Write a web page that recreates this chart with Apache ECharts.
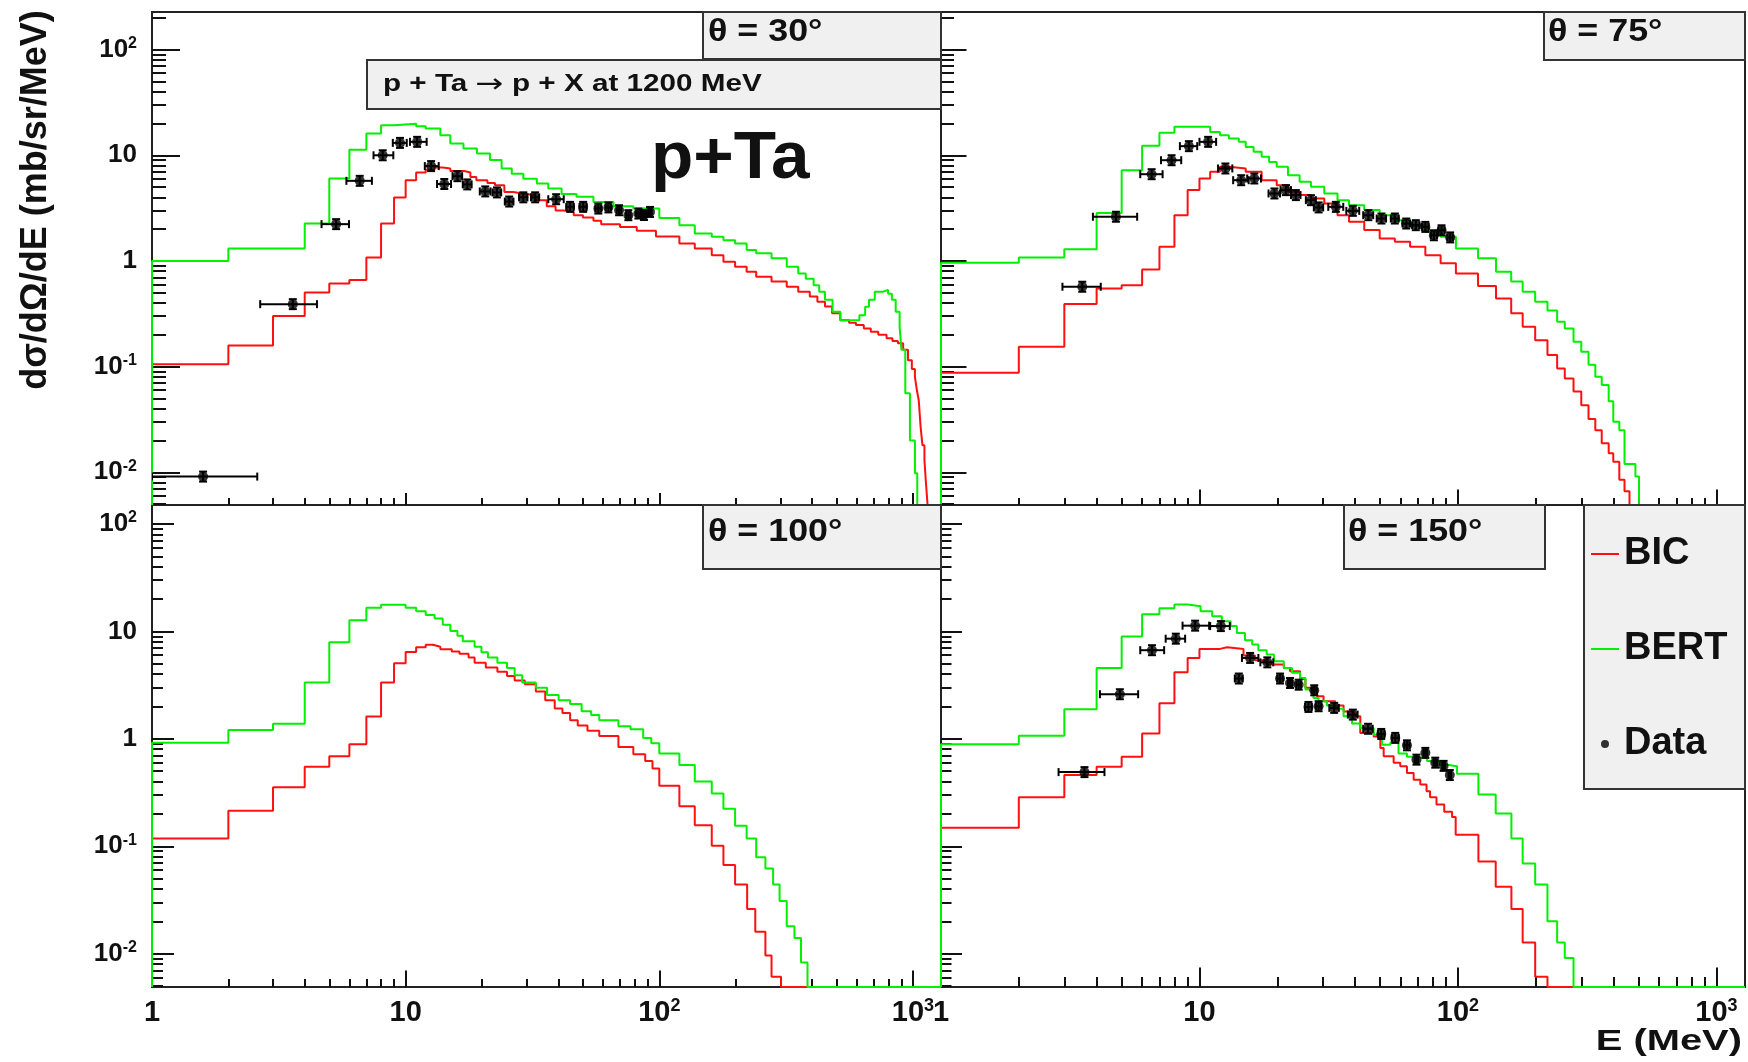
<!DOCTYPE html>
<html><head><meta charset="utf-8">
<script src="https://cdn.jsdelivr.net/npm/echarts@6/dist/echarts.min.js"></script>
<style>html,body{margin:0;padding:0;background:#fff}#c{width:1748px;height:1062px}</style>
</head><body><div id="c"></div><script>
// ---------- data (E in MeV, d2sigma/dOmega dE in mb/sr/MeV) ----------
// histogram pairs: [bin low edge, bin content]; last pair closes the last bin
const angles = ['30', '75', '100', '150'];
const majorXTicks = [1, 10, 100, 1000];
const minorXTicks = [2,3,4,5,6,7,8,9,20,30,40,50,60,70,80,90,200,300,400,500,600,700,800,900];
const majorYTicks = [0.01, 0.1, 1, 10, 100];
const minorYTicks = [0.005,0.006,0.007,0.008,0.009,0.02,0.03,0.04,0.05,0.06,0.07,0.08,0.09,
  0.2,0.3,0.4,0.5,0.6,0.7,0.8,0.9,2,3,4,5,6,7,8,9,20,30,40,50,60,70,80,90,200];
const xRange = [1, 1290];
const yRangeTop = [0.0049, 227];
const yRangeBottom = [0.0049, 150];

const bic30 = [[1,0.105],[2,0.158],[3,0.301],[4,0.503],[5,0.612],[6,0.659],[7,1.08],[8,2.26],[9,3.98],[10,5.8],[11,6.87],[12,7.3],[13,7.66],[14,7.5],[15,7.1],[17,6.87],[18,6.24],[19,5.8],[21,5.48],[22.5,5.21],[24.5,4.5],[26.5,4.35],[29,4.19],[32.5,3.76],[36,3.3],[39,3.0],[42,2.91],[46,2.71],[50,2.58],[55,2.4],[59,2.23],[70,2.1],[81.5,1.93],[97,1.7],[120,1.46],[138,1.31],[161,1.13],[179,0.98],[199,0.88],[221,0.79],[241,0.71],[277,0.64],[318,0.57],[353,0.51],[392,0.46],[420,0.41],[450,0.37],[480,0.32],[517,0.275],[560,0.26],[596,0.247],[640,0.23],[682,0.214],[730,0.2],[787,0.185],[830,0.175],[872,0.166],[915,0.144],[956,0.115],[990,0.095],[1018,0.08],[1036,0.06],[1054,0.048],[1072,0.027],[1090,0.018],[1110,0.013],[1125,0.008],[1142,0.0049]];
const bert30 = [[1,1.0],[2,1.31],[4,2.26],[5,6.03],[6,11.3],[7,16.1],[8,19.2],[9,19.9],[11,18.8],[12,17.9],[13.7,15.5],[15,12.9],[16.9,11.6],[19.1,10.4],[21.5,9.0],[23.9,7.5],[26.2,6.7],[29.1,6.0],[32.9,5.4],[36.5,4.85],[41.2,4.29],[47.2,4.04],[55,3.62],[66,3.3],[79,3.13],[100,2.55],[120,2.18],[138,1.82],[161,1.69],[179,1.57],[199,1.46],[221,1.27],[241,1.18],[277,1.06],[318,0.88],[353,0.76],[378,0.68],[406,0.59],[427,0.51],[450,0.43],[482,0.33],[517,0.275],[615,0.307],[648,0.369],[671,0.43],[707,0.51],[757,0.53],[798,0.49],[826,0.43],[855,0.33],[886,0.238],[901,0.144],[933,0.056],[973,0.020],[1018,0.0098],[1040,0.0049]];
// data points: [E, value, E low, E high]
const data30 = [[1.59,0.0091,1.0,2.6],[3.59,0.39,2.67,4.47],[5.32,2.23,4.66,5.98],[6.59,5.73,5.84,7.36],[8.12,10.0,7.47,8.94],[9.5,13.1,8.9,10.1],[11.1,13.4,10.4,12.1],[12.6,7.9,11.9,13.5],[14.2,5.35,13.3,15.1],[16.0,6.34,15.3,16.7],[17.5,5.3,16.8,18.2],[20.6,4.55,19.6,21.6],[22.9,4.45,22,23.8],[25.6,3.65,24.6,26.6],[29.1,4.0,28,30.2],[32.4,4.0,31.2,33.6],[39.2,3.84,36.5,42],[44.5,3.25,43,46],[50.1,3.25,48.5,51.7],[57.5,3.13,56,59],[63,3.21,61.5,64.5],[69.4,3.02,68,70.8],[75.5,2.71,74,77],[82.7,2.81,81,84.4],[87,2.72,85.5,88.5],[91.9,2.91,90.5,93.3]];

const bic75 = [[1,0.0875],[2,0.154],[3,0.391],[4,0.55],[5,0.59],[6,0.83],[7,1.36],[8,2.71],[9,4.68],[10,6.03],[11,6.97],[12,7.77],[13,7.5],[15.1,6.97],[17.4,5.81],[19.9,5.21],[22,4.51],[24.4,4.2],[27,3.9],[30.4,3.5],[34.2,2.71],[37.9,2.35],[43.4,1.96],[49.8,1.63],[57,1.52],[65.3,1.36],[74.8,1.13],[85.7,0.95],[98.2,0.76],[119.6,0.58],[140.4,0.44],[160.7,0.32],[178,0.238],[199,0.178],[222,0.129],[242,0.096],[259,0.077],[280,0.058],[300,0.043],[320,0.032],[340,0.025],[360,0.0188],[383,0.0151],[399,0.0126],[421,0.0085],[441,0.0066],[461,0.0049]];
const bert75 = [[1,0.96],[2,1.08],[3,1.29],[4,2.85],[5,7.22],[6,12.3],[7,16.3],[8,18.6],[11,16.6],[12,15.5],[13,14.4],[14.2,13.4],[15.1,12.0],[16.2,10.8],[17.4,9.66],[18.6,8.66],[19.9,7.77],[22,6.48],[24.4,5.61],[27,5.03],[30.4,4.35],[34.2,3.76],[37.9,3.37],[43.4,3.03],[49.8,2.71],[57,2.43],[65.3,2.18],[74.8,1.89],[85.7,1.69],[98.2,1.31],[119.6,1.06],[140.4,0.79],[160.7,0.64],[178,0.51],[199,0.41],[222,0.34],[242,0.266],[259,0.23],[280,0.172],[300,0.138],[320,0.104],[340,0.080],[360,0.067],[383,0.047],[399,0.030],[421,0.025],[441,0.012],[461,0.012],[486,0.0091],[502,0.0049]];
const data75 = [[3.52,0.57,2.95,4.15],[4.75,2.62,3.87,5.74],[6.53,6.62,5.9,7.2],[7.8,8.98,7.1,8.5],[9.1,12.2,8.4,9.8],[10.8,13.4,10.0,11.6],[12.6,7.5,11.8,13.4],[14.5,5.81,13.5,15.5],[16.3,6.03,15.3,17.3],[19.5,4.35,18.5,20.5],[21.6,4.68,20.6,22.6],[23.6,4.2,22.6,24.6],[27.0,3.76,25.8,28.2],[28.9,3.21,27.7,30.1],[33.7,3.25,31.5,36],[39.2,2.98,37,41.5],[45.0,2.71,43,47],[50.6,2.52,48.5,52.7],[57.0,2.52,55,59],[63.1,2.26,61,65.2],[68.7,2.18,66.5,71],[74.8,2.10,72.5,77],[80.7,1.75,78.5,83],[86.4,1.95,84,88.8],[93.3,1.67,91,95.6]];

const bic100 = [[1,0.118],[2,0.214],[3,0.355],[4,0.55],[5,0.69],[6,0.89],[7,1.61],[8,3.35],[9,5.04],[10,6.43],[11,7.1],[12,7.5],[12.8,7.2],[13.7,6.8],[15.2,6.5],[16.3,6.2],[17.7,5.7],[18.7,5.1],[20.7,4.6],[23,4.2],[25.1,3.85],[26.9,3.48],[29.5,3.22],[32.6,2.76],[35.5,2.28],[38.7,1.92],[41.5,1.74],[44.5,1.49],[47.7,1.33],[52.1,1.19],[58,1.06],[69,0.84],[79,0.72],[88,0.62],[94,0.53],[100,0.366],[120,0.236],[138,0.157],[161,0.101],[179,0.067],[199,0.044],[222,0.026],[239,0.016],[262,0.0096],[277,0.0061],[302,0.0049],[1290,0.0049]];
const bert100 = [[1,0.92],[2,1.21],[3,1.38],[4,3.35],[5,7.93],[6,12.7],[7,16.6],[8,17.7],[10,16.6],[11,15.4],[12,14.2],[13,13.2],[14,11.5],[15,10.1],[16,9.1],[16.8,8.1],[18.7,7.2],[19.9,6.4],[21.1,5.7],[23,5.1],[25.1,4.55],[26.9,3.9],[28.8,3.35],[32.6,2.98],[36.1,2.56],[40.1,2.28],[44.5,2.11],[49.4,1.81],[53.9,1.67],[58,1.49],[69,1.31],[77,1.23],[86.4,1.02],[93,0.91],[100,0.73],[120,0.57],[138,0.40],[161,0.31],[179,0.224],[199,0.155],[221,0.118],[241,0.079],[262,0.062],[281,0.044],[298,0.031],[318,0.018],[341,0.014],[362,0.0083],[384,0.0049],[1290,0.0049]];

const bic150 = [[1,0.149],[2,0.286],[3,0.46],[4,0.55],[5,0.68],[6,1.12],[7,2.14],[8,4.16],[9,5.66],[10,6.87],[12,7.12],[12.8,6.87],[14.8,5.96],[16.4,5.38],[18.2,4.91],[21.2,4.57],[22.4,4.26],[24.5,3.61],[25.7,2.98],[28.5,2.49],[30.2,2.24],[33.5,2.04],[36.1,1.80],[39.5,1.62],[41.9,1.135],[47.2,1.05],[50.1,0.82],[51.6,0.69],[56.4,0.60],[59.8,0.555],[63.5,0.48],[67.4,0.417],[71.5,0.375],[75.6,0.325],[78,0.286],[82.6,0.245],[88.5,0.21],[94.9,0.187],[98,0.128],[120,0.072],[140,0.042],[161,0.026],[178,0.0127],[199,0.0061],[222,0.0049],[1290,0.0049]];
const bert150 = [[1,0.89],[2,1.07],[3,1.88],[4,4.55],[5,8.95],[6,14.4],[7,16.4],[8,17.8],[9,17.1],[10.1,15.4],[11.2,13.8],[12.2,12.4],[13.2,11.2],[13.95,9.68],[15,8.27],[16,7.53],[16.9,6.67],[18.2,6.08],[19.4,5.27],[21.2,4.57],[22.8,4.11],[24.5,3.69],[25.7,2.87],[27.6,2.40],[28.9,2.24],[31.1,2.04],[33,1.90],[36.1,1.62],[38.9,1.39],[41.9,1.26],[47.2,1.09],[50.8,0.88],[54.7,0.92],[58.9,0.73],[63.5,0.68],[69.4,0.66],[75.9,0.62],[85.5,0.575],[90.7,0.555],[99.2,0.474],[120,0.304],[140,0.202],[161,0.118],[178,0.069],[199,0.044],[222,0.020],[242,0.0127],[259,0.0091],[280,0.0049],[1290,0.0049]];
const data150 = [[3.59,0.49,2.85,4.29],[4.92,2.6,4.12,5.79],[6.55,6.68,5.9,7.3],[8.1,8.55,7.4,8.8],[9.62,11.3,8.6,10.9],[12.1,11.2,11.0,13.1],[14.2,3.64,13.7,14.7],[15.7,5.66,14.6,16.9],[18.3,5.15,17.2,19.3],[20.5,3.64,20,21],[22.4,3.31,22,22.8],[24.2,3.19,23.7,24.7],[27.8,2.83,27.2,28.4],[26.4,1.98,25.6,27.2],[28.9,2.01,28.2,29.6],[33.2,1.94,31.8,34.6],[39.2,1.68,37.5,40.9],[44.9,1.24,43,46.8],[50.5,1.11,49,52],[57.2,1.02,55.5,59],[63.5,0.87,62,65],[69.1,0.64,68,70.2],[74.8,0.74,73.5,76],[81.7,0.60,80.5,83],[88.0,0.56,87,89],[93.0,0.46,92,94]];

// ---------- chart ----------
const FONT = "'Liberation Sans', Arial, Helvetica, sans-serif";
const RED = '#ff1010', GREEN = '#00f000', INK = '#111';

function powLabel(v) {
  const e = Math.round(Math.log10(v));
  if (e === 0) return '{b|1}';
  if (e === 1) return '{b|10}';
  return '{b|10}{s|' + e + '}';
}
function richFor(main, sup) {
  return {
    b: {fontSize: main, fontWeight: 'bold', fontFamily: FONT, color: INK, lineHeight: main + 2},
    s: {fontSize: sup, fontWeight: 'bold', fontFamily: FONT, color: INK, verticalAlign: 'top', lineHeight: sup + 1}
  };
}

const panels = [
  {grid: {left: 152, top: 12, width: 789, height: 493}, yr: yRangeTop, xl: false, yl: true, xt: [12, 7], yt: [28, 14]},
  {grid: {left: 941, top: 12, width: 804, height: 493}, yr: yRangeTop, xl: false, yl: false, xt: [15.5, 7], yt: [25.5, 13]},
  {grid: {left: 152, top: 505, width: 789, height: 482}, yr: yRangeBottom, xl: true, yl: true, xt: [16.5, 8], yt: [22, 11]},
  {grid: {left: 941, top: 505, width: 804, height: 482}, yr: yRangeBottom, xl: true, yl: false, xt: [19.5, 10], yt: [21, 10.5]}
];
const hists = [[bic30, bert30], [bic75, bert75], [bic100, bert100], [bic150, bert150]];
const points = [data30, data75, null, data150];

const grids = [], xAxes = [], yAxes = [], series = [];
const tickLine = {color: INK, width: 2};
panels.forEach((p, i) => {
  grids.push(Object.assign({show: true, borderColor: '#222', borderWidth: 2, backgroundColor: 'transparent', containLabel: false, outerBoundsMode: 'none'}, p.grid));
  const xBase = {gridIndex: i, type: 'log', logBase: 10, min: xRange[0], max: xRange[1], position: 'bottom', offset: 0,
    axisLine: {show: false}, splitLine: {show: false}, minorTick: {show: false}, minorSplitLine: {show: false}};
  xAxes.push(Object.assign({}, xBase, {
    axisTick: {show: true, inside: true, length: p.xt[0], customValues: majorXTicks, lineStyle: tickLine},
    axisLabel: {show: p.xl, customValues: majorXTicks, margin: 10, formatter: powLabel, rich: richFor(29, 18)}
  }));
  xAxes.push(Object.assign({}, xBase, {
    axisTick: {show: true, inside: true, length: p.xt[1], customValues: minorXTicks, lineStyle: tickLine},
    axisLabel: {show: false}
  }));
  const yBase = {gridIndex: i, type: 'log', logBase: 10, min: p.yr[0], max: p.yr[1], position: 'left', offset: 0,
    axisLine: {show: false}, splitLine: {show: false}, minorTick: {show: false}, minorSplitLine: {show: false}};
  yAxes.push(Object.assign({}, yBase, {
    axisTick: {show: true, inside: true, length: p.yt[0], customValues: majorYTicks, lineStyle: tickLine},
    axisLabel: {show: p.yl, customValues: majorYTicks, margin: 15, formatter: powLabel, rich: richFor(26, 16)}
  }));
  yAxes.push(Object.assign({}, yBase, {
    axisTick: {show: true, inside: true, length: p.yt[1], customValues: minorYTicks, lineStyle: tickLine},
    axisLabel: {show: false}
  }));

  const floorY = p.yr[0];
  const mk = (name, pairs, color, z) => ({
    type: 'line', name, xAxisIndex: 2 * i, yAxisIndex: 2 * i,
    data: [[pairs[0][0], floorY]].concat(pairs), step: 'end',
    symbol: 'none', showSymbol: false, clip: true, z,
    lineStyle: {color, width: 2}, itemStyle: {color}, emphasis: {disabled: true}
  });
  series.push(mk('BIC', hists[i][0], RED, 3));
  series.push(mk('BERT', hists[i][1], GREEN, 4));

  if (points[i]) {
    series.push({
      type: 'custom', name: 'Data errors', xAxisIndex: 2 * i, yAxisIndex: 2 * i, clip: true, z: 5,
      data: points[i], encode: {x: 0, y: 1},
      renderItem: function (params, api) {
        const y = api.value(1);
        const c = api.coord([api.value(0), y]);
        const a = api.coord([api.value(2), y]);
        const b = api.coord([api.value(3), y]);
        const st = {stroke: '#000', lineWidth: 2};
        const cap = 4, vh = 5;
        return {type: 'group', children: [
          {type: 'line', shape: {x1: a[0], y1: c[1], x2: b[0], y2: c[1]}, style: st},
          {type: 'line', shape: {x1: a[0], y1: c[1] - cap, x2: a[0], y2: c[1] + cap}, style: st},
          {type: 'line', shape: {x1: b[0], y1: c[1] - cap, x2: b[0], y2: c[1] + cap}, style: st},
          {type: 'line', shape: {x1: c[0], y1: c[1] - vh, x2: c[0], y2: c[1] + vh}, style: st},
          {type: 'line', shape: {x1: c[0] - cap, y1: c[1] - vh, x2: c[0] + cap, y2: c[1] - vh}, style: st},
          {type: 'line', shape: {x1: c[0] - cap, y1: c[1] + vh, x2: c[0] + cap, y2: c[1] + vh}, style: st}
        ]};
      }
    });
    series.push({
      type: 'scatter', name: 'Data', xAxisIndex: 2 * i, yAxisIndex: 2 * i, z: 6,
      data: points[i].map(d => [d[0], d[1]]), symbol: 'circle', symbolSize: 10,
      itemStyle: {color: '#000'}, emphasis: {disabled: true}
    });
  }
});

function box(x, y, w, h) {
  return {type: 'rect', z: 30, shape: {x, y, width: w, height: h}, style: {fill: '#f0f0f0', stroke: '#333', lineWidth: 2}};
}
function label(text, x, y, size, sx, align, rich) {
  return {type: 'text', z: 31, x, y, scaleX: sx || 1,
    style: {text, font: 'bold ' + size + 'px ' + FONT, fill: INK, align: align || 'left', verticalAlign: 'middle',
      textAlign: align || 'left', textVerticalAlign: 'middle', rich: rich}};
}

const option = {
  animation: false,
  backgroundColor: '#fff',
  grid: grids, xAxis: xAxes, yAxis: yAxes, series,
  legend: {
    data: [
      {name: 'BIC', itemStyle: {opacity: 0}},
      {name: 'BERT', itemStyle: {opacity: 0}},
      {name: 'Data'}
    ],
    orient: 'vertical', left: 1590, top: 534, padding: 0,
    itemWidth: 28, itemHeight: 8, itemGap: 55, selectedMode: false, z: 40,
    textStyle: {fontSize: 38, fontWeight: 'bold', fontFamily: FONT, color: INK, lineHeight: 40}
  },
  graphic: [
    box(1584, 505, 161, 284),
    box(703, 12, 238, 47), label('θ = ' + angles[0] + '°', 708, 32, 32, 1.12),
    box(367, 60, 574, 49),
    label('{t|p + Ta }{a|→}{t| p + X at 1200 MeV}', 383, 85, 23, 1.29, 'left', {
      t: {font: 'bold 23px ' + FONT, fill: INK, color: INK},
      a: {font: '26px DejaVu Sans, ' + FONT, fill: INK, color: INK}
    }),
    box(1544, 12, 201, 48), label('θ = ' + angles[1] + '°', 1548, 32, 32, 1.12),
    box(703, 505, 238, 64), label('θ = ' + angles[2] + '°', 708, 532, 32, 1.12),
    box(1344, 505, 201, 64), label('θ = ' + angles[3] + '°', 1348, 532, 32, 1.12),
    label('p+Ta', 651, 160, 66, 1.05),
    label('E (MeV)', 1742, 1042, 30, 1.33, 'right'),
    {type: 'text', z: 31, x: 36, y: 200, rotation: Math.PI / 2,
      style: {text: 'dσ/dΩ/dE (mb/sr/MeV)', font: 'bold 36px ' + FONT, fill: INK,
        align: 'center', verticalAlign: 'middle', textAlign: 'center', textVerticalAlign: 'middle'}}
  ]
};

const chart = echarts.init(document.getElementById('c'), null, {renderer: 'canvas', width: 1748, height: 1062});
chart.setOption(option);
</script></body></html>
